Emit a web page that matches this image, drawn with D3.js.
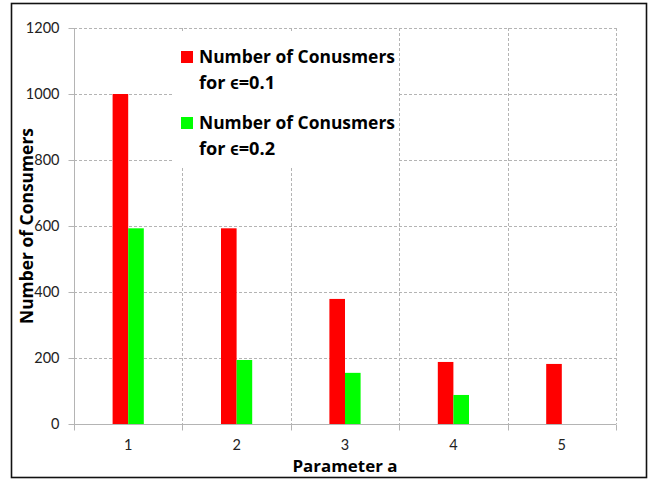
<!DOCTYPE html>
<html>
<head>
<meta charset="utf-8">
<script src="https://cdn.jsdelivr.net/npm/d3@7"></script>
<style>
  html, body { margin: 0; padding: 0; background: #fff; }
  svg { display: block; }
</style>
</head>
<body>
<svg id="chart" width="653" height="479"></svg>
<script>
// Consumers per value of parameter a, for two epsilon settings
const categories = ["1", "2", "3", "4", "5"];
const seriesNames = ["Number of Conusmers\nfor \u03f5=0.1", "Number of Conusmers\nfor \u03f5=0.2"];
const eps01 = [1000, 593, 379, 188, 182];
const eps02 = [593, 194, 155, 88, null];
const yTicks = [0, 200, 400, 600, 800, 1000, 1200];
const seriesColors = ["#ff0000", "#00ff00"];

const svg = d3.select("#chart");
const plot = { left: 74, right: 616, top: 28, bottom: 424 };
const gridColor = "#b4b4b4";
const font = "Lato, 'Open Sans', sans-serif";
const boldFont = "'Open Sans', Lato, sans-serif";

// outer frame
svg.append("rect")
  .attr("x", 11.5).attr("y", 3.5)
  .attr("width", 635).attr("height", 474)
  .attr("fill", "#fff").attr("stroke", "#111").attr("stroke-width", 1.6);

const x = d3.scaleBand().domain(categories).range([plot.left, plot.right]).paddingInner(0).paddingOuter(0);
const y = d3.scaleLinear().domain([0, 1200]).range([plot.bottom, plot.top]);
const barW = 15.6;
const xs = d3.scaleBand().domain([0, 1]).range([-barW, barW]);

// horizontal gridlines
svg.append("g").selectAll("line").data(yTicks.filter(d => d > 0)).join("line")
  .attr("x1", plot.left).attr("x2", plot.right)
  .attr("y1", d => Math.round(y(d)) + 0.5).attr("y2", d => Math.round(y(d)) + 0.5)
  .attr("stroke", gridColor).attr("stroke-width", 1).attr("stroke-dasharray", "3,2");

// vertical gridlines at category boundaries
svg.append("g").selectAll("line").data(categories).join("line")
  .attr("x1", d => Math.round(x(d) + x.bandwidth()) + 0.5)
  .attr("x2", d => Math.round(x(d) + x.bandwidth()) + 0.5)
  .attr("y1", plot.top).attr("y2", plot.bottom)
  .attr("stroke", gridColor).attr("stroke-width", 1).attr("stroke-dasharray", "3,2");

// legend background hides the grid behind it
svg.append("rect")
  .attr("x", 173).attr("y", 33).attr("width", 225).attr("height", 134)
  .attr("fill", "#fff");

// bars
const seriesData = [eps01, eps02];
seriesData.forEach((vals, si) => {
  svg.append("g").selectAll("rect")
    .data(categories.map((c, i) => ({ c, v: vals[i] })).filter(d => d.v != null))
    .join("rect")
    .attr("x", d => x(d.c) + x.bandwidth() / 2 + xs(si))
    .attr("width", xs.bandwidth())
    .attr("y", d => y(d.v))
    .attr("height", d => y(0) - y(d.v))
    .attr("fill", seriesColors[si]);
});

// y axis
const yAxis = d3.axisLeft(y).tickValues(yTicks).tickFormat(d3.format("d")).tickSize(6).tickPadding(9);
const gy = svg.append("g").attr("transform", `translate(${plot.left + 0.5},0)`).call(yAxis);
gy.select(".domain").attr("stroke", gridColor).attr("d", `M0,${plot.top}V${plot.bottom}`);
gy.selectAll(".tick line").attr("stroke", gridColor);
gy.selectAll(".tick text").attr("font-family", font).attr("font-size", 14.5).attr("fill", "#222");

// x axis
const xAxis = d3.axisBottom(x).tickSize(0).tickPadding(15);
const gx = svg.append("g").attr("transform", `translate(0,${plot.bottom + 0.5})`).call(xAxis);
gx.select(".domain").attr("stroke", gridColor).attr("d", `M${plot.left},0H${plot.right}`);
gx.selectAll(".tick text").attr("font-family", font).attr("font-size", 14.5).attr("fill", "#222");
// boundary tick marks
const bounds = [plot.left].concat(categories.map(c => x(c) + x.bandwidth()));
gx.append("g").selectAll("line").data(bounds).join("line")
  .attr("x1", d => Math.round(d) + 0.5).attr("x2", d => Math.round(d) + 0.5)
  .attr("y1", 0).attr("y2", 6).attr("stroke", gridColor);

// axis titles
svg.append("text")
  .attr("x", (plot.left + plot.right) / 2).attr("y", 471.5)
  .attr("text-anchor", "middle")
  .attr("font-family", boldFont).attr("font-weight", "bold").attr("font-size", 16.5)
  .attr("textLength", 105).attr("lengthAdjust", "spacingAndGlyphs")
  .attr("fill", "#000").text("Parameter a");

svg.append("text")
  .attr("transform", `translate(33,226) rotate(-90)`)
  .attr("text-anchor", "middle")
  .attr("font-family", boldFont).attr("font-weight", "bold").attr("font-size", 18.5)
  .attr("textLength", 196).attr("lengthAdjust", "spacingAndGlyphs")
  .attr("fill", "#000").text("Number of Consumers");

// legend
const legend = svg.append("g");
const lineLengths = [196, 76];
seriesNames.forEach((name, i) => {
  const top = 51 + i * 66;
  legend.append("rect")
    .attr("x", 181).attr("y", top).attr("width", 12).attr("height", 12)
    .attr("fill", seriesColors[i]);
  name.split("\n").forEach((ln, j) => {
    legend.append("text")
      .attr("x", 199).attr("y", top + 11.5 + j * 26)
      .attr("font-family", boldFont).attr("font-weight", "bold").attr("font-size", 18)
      .attr("textLength", lineLengths[j]).attr("lengthAdjust", "spacingAndGlyphs")
      .attr("fill", "#000").text(ln);
  });
});
</script>
</body>
</html>
